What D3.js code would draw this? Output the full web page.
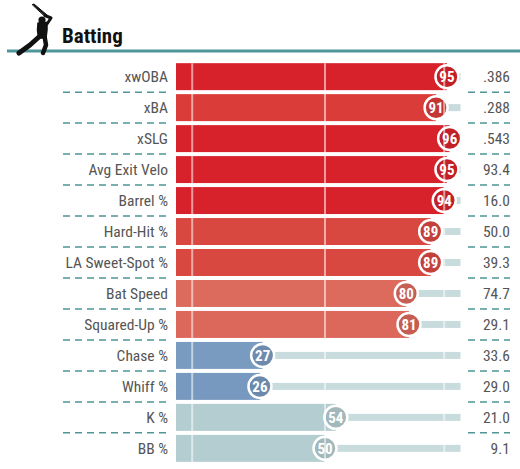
<!DOCTYPE html>
<html><head><meta charset="utf-8">
<script src="https://cdn.jsdelivr.net/npm/d3@7"></script>
<style>
html,body{margin:0;padding:0;background:#fff;}
svg{display:block;}
</style></head>
<body>
<svg id="chart" width="520" height="469"></svg>
<script>
const title = "Batting";
const metrics = ["xwOBA","xBA","xSLG","Avg Exit Velo","Barrel %","Hard-Hit %","LA Sweet-Spot %","Bat Speed","Squared-Up %","Chase %","Whiff %","K %","BB %"];
const percentiles = [95,91,96,95,94,89,89,80,81,27,26,54,50];
const statValues = [".386",".288",".543","93.4","16.0","50.0","39.3","74.7","29.1","33.6","29.0","21.0","9.1"];
const gridValues = [1,50,94];
const colorStops = [0,50,58,80,90,94,100];
const colorRange = ["#3661ad","#b4cdd0","#b4cdd0","#dc6b5e","#d9443d","#d8222b","#d8222b"];
const FONT = "Roboto Condensed, sans-serif";

const svg = d3.select("#chart");
const x = d3.scaleLinear().domain([0,100]).range([189.5,460.5]);
const y = d3.scaleBand().domain(metrics).range([61,464]).paddingInner(4/31).paddingOuter(0.07);
const color = d3.scaleLinear().domain(colorStops).range(colorRange);
const barStart = x(0) - 13.5;
const teal = "#4f9599";

// header
svg.append("line").attr("x1",7).attr("x2",520).attr("y1",51).attr("y2",51)
  .attr("stroke",teal).attr("stroke-width",3);
svg.append("text").attr("font-family",FONT).attr("x",62).attr("y",43)
  .attr("font-size",21).attr("font-weight","bold").attr("fill","#111").text(title);

// batter silhouette
const icon = svg.append("g").attr("fill","#111").attr("stroke","#111").attr("stroke-linecap","round").attr("stroke-linejoin","round");
icon.append("path").attr("stroke-width",1).attr("d","M32.5,4.5 L34,4 L47,15 L45.5,16.5 Z");
icon.append("circle").attr("cx",42).attr("cy",20).attr("r",3.6).attr("stroke","none");
icon.append("path").attr("fill","none").attr("stroke-width",3).attr("d","M45,15.5 L51,18 L47,24");
icon.append("path").attr("stroke-width",1.5).attr("d","M38,23 L47,22.5 L47,30 L46,38 L38.5,38 L37.5,30 Z");
icon.append("path").attr("fill","none").attr("stroke-width",5).attr("d","M40,36 L30,45 L19,53");
icon.append("path").attr("fill","none").attr("stroke-width",4.5).attr("d","M44.5,36 L46,45 L43,53");

const rows = svg.append("g").selectAll("g").data(metrics).join("g");
// metric labels
rows.append("text").attr("font-family",FONT).attr("x",168).attr("y",d=>y(d)+y.bandwidth()/2+5.5)
  .attr("text-anchor","end").attr("font-size",15.5).attr("fill","#555").text(d=>d);
// stat values
rows.append("text").attr("font-family",FONT).attr("x",510).attr("y",d=>y(d)+y.bandwidth()/2+5.5)
  .attr("text-anchor","end").attr("font-size",15.5).attr("fill","#555").text((d,i)=>statValues[i]);

// tracks
rows.append("rect").attr("x",(d,i)=>x(percentiles[i])).attr("y",d=>y(d)+y.bandwidth()/2-3.5)
  .attr("width",(d,i)=>x(100)-x(percentiles[i])).attr("height",7).attr("fill","#c8dbdd");
// bars
rows.append("rect").attr("x",barStart).attr("y",d=>y(d))
  .attr("width",(d,i)=>x(percentiles[i])-barStart).attr("height",y.bandwidth())
  .attr("fill",(d,i)=>color(percentiles[i]));

// gridlines
svg.append("g").selectAll("line").data(gridValues).join("line")
  .attr("x1",d=>x(d)).attr("x2",d=>x(d)).attr("y1",y(metrics[0])).attr("y2",469)
  .attr("stroke","#fff").attr("stroke-opacity",0.55).attr("stroke-width",2);

// dashed separators
const seps = metrics.slice(1);
const sepG = svg.append("g").attr("stroke",teal).attr("stroke-width",1.5);
sepG.selectAll("line.l").data(seps).join("line").attr("class","l")
  .attr("x1",63).attr("x2",168).attr("y1",d=>y(d)-2).attr("y2",d=>y(d)-2).attr("stroke-dasharray","7,5");
sepG.selectAll("line.r").data(seps).join("line").attr("class","r")
  .attr("x1",468).attr("x2",510).attr("y1",d=>y(d)-2).attr("y2",d=>y(d)-2).attr("stroke-dasharray","7,5");

// percentile circles
rows.append("circle").attr("cx",(d,i)=>x(percentiles[i])).attr("cy",d=>y(d)+y.bandwidth()/2).attr("r",11.5)
  .attr("fill",(d,i)=>d3.color(color(percentiles[i])).darker(0.3)).attr("stroke","#fff").attr("stroke-width",2.5);
rows.append("text").attr("font-family",FONT).attr("x",(d,i)=>x(percentiles[i])).attr("y",d=>y(d)+y.bandwidth()/2+5.5)
  .attr("text-anchor","middle").attr("font-size",15).attr("font-weight","bold").attr("fill","#fff")
  .text((d,i)=>percentiles[i]);
</script>
</body></html>
